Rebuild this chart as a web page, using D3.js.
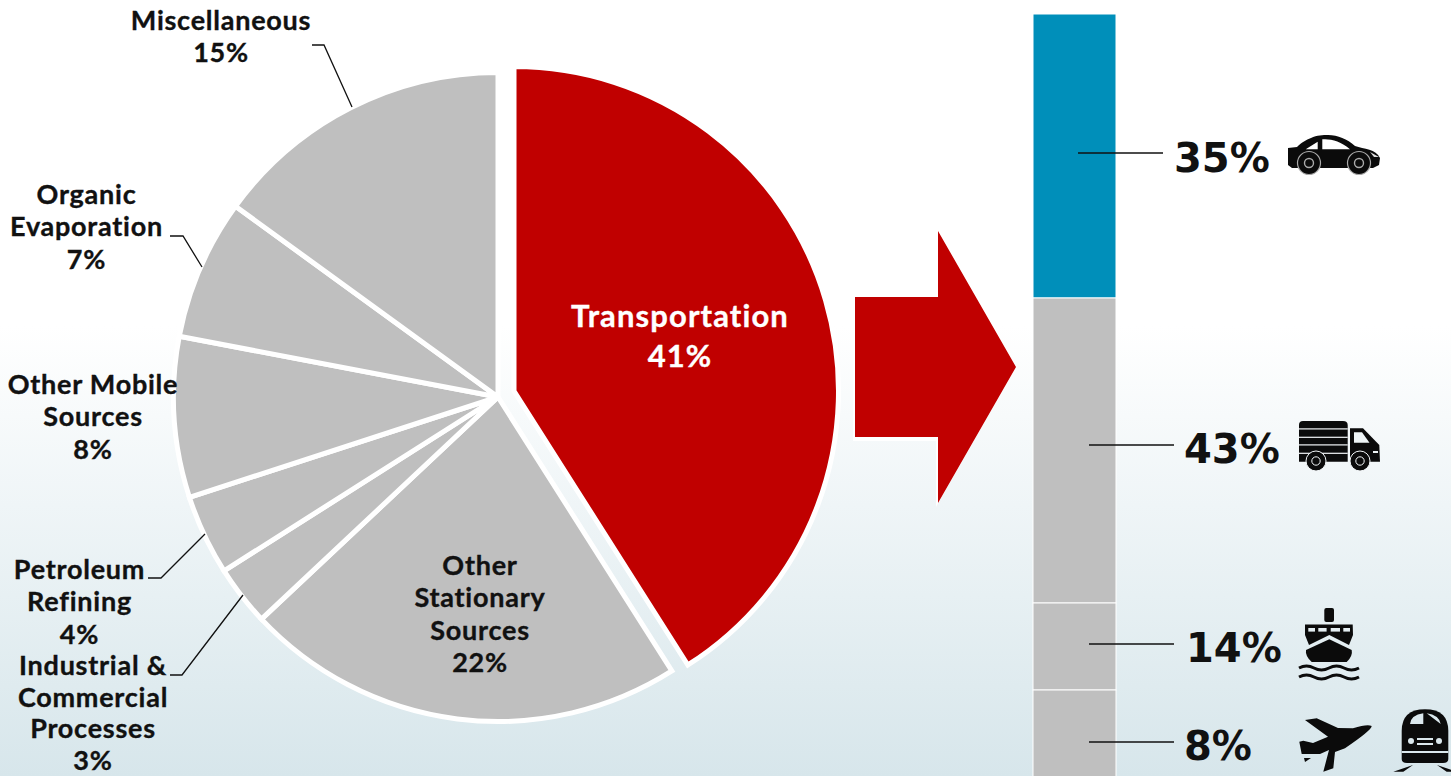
<!DOCTYPE html>
<html>
<head>
<meta charset="utf-8">
<script src="https://cdn.jsdelivr.net/npm/d3@7"></script>
<style>
  html, body { margin: 0; padding: 0; overflow: hidden; }
  text { font-family: "Lato", sans-serif; font-weight: 700; fill: #111; font-variant-ligatures: none; }
  .lbl { letter-spacing: 0.75px; stroke-width: 0.35px; }
  .pct { font-family: "DejaVu Sans", sans-serif; font-weight: 700; }
</style>
</head>
<body>
<div id="chart"></div>
<script>
// pie, clockwise from 12 o'clock
var sectors = ["Transportation", "Other Stationary Sources", "Industrial & Commercial Processes", "Petroleum Refining", "Other Mobile Sources", "Organic Evaporation", "Miscellaneous"];
var sectorShares = [41, 22, 3, 4, 8, 7, 15];
var sectorLines = [["Transportation", "41%"], ["Other", "Stationary", "Sources", "22%"], ["Industrial &", "Commercial", "Processes", "3%"], ["Petroleum", "Refining", "4%"], ["Other Mobile", "Sources", "8%"], ["Organic", "Evaporation", "7%"], ["Miscellaneous", "15%"]];

// transport breakdown, top to bottom
var modes = ["Cars", "Trucks", "Ships", "Planes and trains"];
var modeShares = [35, 43, 14, 8];

var width = 1451, height = 776;
var pieCx = 498, pieCy = 397, pieR = 324.5;

var svg = d3.select("#chart").append("svg").attr("width", width).attr("height", height);

var bg = svg.append("defs").append("linearGradient").attr("id", "bg").attr("x1", 0).attr("x2", 0).attr("y1", 0).attr("y2", 1);
bg.append("stop").attr("offset", "42%").attr("stop-color", "#ffffff");
bg.append("stop").attr("offset", "100%").attr("stop-color", "#d7e6eb");
svg.append("rect").attr("width", width).attr("height", height).attr("fill", "url(#bg)");

// pie
var pie = d3.pie().sort(null).value(function (d) { return d; });
var arc = d3.arc().innerRadius(0).outerRadius(pieR);
var arcs = pie(sectorShares);

svg.append("g")
  .attr("transform", "translate(" + pieCx + "," + pieCy + ")")
  .selectAll("path")
  .data(arcs)
  .join("path")
  .attr("d", arc)
  .attr("fill", function (d, i) { return i === 0 ? "#c00000" : "#bfbfbf"; })
  .attr("stroke", "#fff")
  .attr("stroke-width", 5)
  .attr("transform", function (d, i) { return i === 0 ? "translate(16,-6)" : null; });

// pie labels: anchor centre x, first baseline y, line gap
var labelPos = [[680, 327, 40], [480, 575, 32.4], [93, 675, 31.5], [79.5, 579, 32.4], [93, 394, 32.4], [86.5, 204, 32.4], [221, 30, 32.4]];
sectorLines.forEach(function (lines, i) {
  var t = svg.append("text")
    .attr("class", "lbl")
    .attr("text-anchor", "middle")
    .attr("font-size", i === 0 ? 31 : 27)
    .style("fill", i === 0 ? "#fff" : "#111")
    .style("stroke", i === 0 ? "#fff" : "#111");
  if (i === 0) t.style("letter-spacing", "1.1px");
  lines.forEach(function (s, j) {
    t.append("tspan").attr("x", labelPos[i][0]).attr("y", labelPos[i][1] + j * labelPos[i][2]).text(s);
  });
});

// leader lines
var leaders = [
  [[148, 578], [161, 578], [205, 534]],
  [[170, 675], [182, 675], [243, 595]],
  [[170, 236], [183, 236], [202, 267]],
  [[312, 45], [324, 45], [352, 107]]
];
var line = d3.line();
svg.append("g").selectAll("path").data(leaders).join("path")
  .attr("d", line).attr("fill", "none").attr("stroke", "#111").attr("stroke-width", 1.3);

// arrow, white edge only shows at the lower left
var arrowPath = "M855,297H938V231L1016,367L938,503V437H855Z";
svg.append("path").attr("d", arrowPath).attr("fill", "#fff").attr("transform", "translate(-2,4)");
svg.append("path").attr("d", arrowPath).attr("fill", "#c00000");

// stacked bar, the picture's segments are not drawn to scale so the scale has a knot per segment
var cum = d3.cumsum(modeShares);
var yBar = d3.scaleLinear().domain([0].concat(Array.from(cum))).range([14, 298, 603, 690, 790]);
var xBar = d3.scaleBand().domain(["Transportation"]).range([1033, 1116]);
var barRows = modeShares.map(function (v, i) { return { name: modes[i], v: v, y0: i ? cum[i - 1] : 0, y1: cum[i] }; });

svg.append("g").selectAll("rect").data(barRows).join("rect")
  .attr("x", xBar("Transportation"))
  .attr("width", xBar.bandwidth())
  .attr("y", function (d) { return yBar(d.y0); })
  .attr("height", function (d) { return yBar(d.y1) - yBar(d.y0); })
  .attr("fill", function (d, i) { return i === 0 ? "#008fba" : "#bfbfbf"; })
  .attr("stroke", "#fff")
  .attr("stroke-width", 1);

var calloutY = [153, 445, 644, 742];
var calloutX0 = [1078, 1089, 1089, 1089];
var calloutX1 = [1163, 1174, 1174, 1174];
var pctX = [1174, 1184, 1186, 1184];
var pctY = [172, 463, 662, 760];

svg.append("g").selectAll("line").data(barRows).join("line")
  .attr("x1", function (d, i) { return calloutX0[i]; })
  .attr("x2", function (d, i) { return calloutX1[i]; })
  .attr("y1", function (d, i) { return calloutY[i]; })
  .attr("y2", function (d, i) { return calloutY[i]; })
  .attr("stroke", "#111").attr("stroke-width", 1.6);

svg.append("g").selectAll("text").data(barRows).join("text")
  .attr("class", "pct")
  .attr("x", function (d, i) { return pctX[i]; })
  .attr("y", function (d, i) { return pctY[i]; })
  .attr("font-size", 40)
  .text(function (d) { return d.v + "%"; });

// icons
var icons = svg.append("g").attr("fill", "#0b0b0b");

// car
var car = icons.append("g").attr("transform", "translate(1288,134)");
car.append("path").attr("d", "M0,14 L9,13 C14,8 18,6 23,4 C29,1 35,1 40,1 C50,1 59,5 67,12 C76,15 88,15 92,24 L91,31 L85,34 L4,34 L0,31 Z");
car.append("path").attr("d", "M17.7,15.3 L29.7,7.7 V15.3 Z M34.3,15.3 V5.3 C42,4.5 53,7 62,15.3 Z").attr("fill", "#fff");
car.append("path").attr("d", "M82,18 L91,23 L86,23 Z").attr("fill", "#ddd");
[[21, 29], [71, 29]].forEach(function (w) {
  car.append("circle").attr("cx", w[0]).attr("cy", w[1]).attr("r", 11.5).attr("stroke", "#aaa").attr("stroke-width", 1.2);
  car.append("circle").attr("cx", w[0]).attr("cy", w[1]).attr("r", 4.5).attr("fill", "none").attr("stroke", "#aaa").attr("stroke-width", 1.4);
});

// truck
var truck = icons.append("g").attr("transform", "translate(1299,421)");
truck.append("path").attr("d", "M0,4 Q0,0 4,0 H44 Q48.7,0 48.7,4 V40.7 H0 Z");
[7.3, 15.7, 23.3, 31.7].forEach(function (y) {
  truck.append("rect").attr("x", 0).attr("y", y).attr("width", 48.7).attr("height", 1.2).attr("fill", "#f2f6f8");
});
truck.append("path").attr("d", "M51,7.3 H64 L80.3,24 L81,40.7 H51 Z");
truck.append("path").attr("d", "M55,11.3 H63 L70.5,21.7 H55 Z").attr("fill", "#eef4f6");
truck.append("rect").attr("x", 74).attr("y", 30).attr("width", 5).attr("height", 2).attr("fill", "#eef4f6");
[[17, 40], [61, 40]].forEach(function (w) {
  truck.append("circle").attr("cx", w[0]).attr("cy", w[1]).attr("r", 10).attr("stroke", "#f2f6f8").attr("stroke-width", 1);
  truck.append("circle").attr("cx", w[0]).attr("cy", w[1]).attr("r", 4.2).attr("fill", "none").attr("stroke", "#f2f6f8").attr("stroke-width", 1);
});

// ship
var ship = icons.append("g").attr("transform", "translate(1299,608)");
ship.append("rect").attr("x", 25.3).attr("y", 0).attr("width", 9.7).attr("height", 14).attr("rx", 2);
ship.append("path").attr("d", "M6,16.5 H53.7 L54,27 L50,37 L30.3,27 L10,37 L6,27 Z");
ship.append("path").attr("d", "M30.3,31.3 L52.7,42 Q54,48 47.7,54 H12.7 Q6,48 7,42 Z");
ship.append("g").attr("fill", "#e3edf1").selectAll("rect").data([[9.3, 6.7], [19.3, 8.3], [31.7, 9.3], [44.3, 6.7]]).join("rect")
  .attr("x", function (d) { return d[0]; }).attr("y", 20).attr("width", function (d) { return d[1]; }).attr("height", 3.6);
ship.append("g").attr("fill", "none").attr("stroke", "#0b0b0b").attr("stroke-width", 3)
  .selectAll("path").data([60, 69]).join("path")
  .attr("d", function (y) { return "M0," + y + " q7.5,-4 15,0 t15,0 t15,0 t15,0"; });

// plane
var plane = icons.append("g").attr("transform", "translate(1299,716)");
plane.append("path").attr("d", "M72.7,10 Q73,14 46,32.3 L36,36 L34.3,52.3 L24.3,55.7 L30,34 L21,38 L2.7,38 L0.3,25.7 L4.3,24.7 L14,27 L29,20.7 L6,4 L17.7,2.3 L39,12 L54,12.3 Q68,8 72.7,10 Z");
plane.append("path").attr("d", "M5,42 L12,42 L6,46 Z");

// train
var train = icons.append("g").attr("transform", "translate(1393,709)");
train.append("path").attr("d", "M8.7,22 Q8.7,0.3 32,0.3 Q55.3,0.3 55.3,22 V50 Q55.3,54 50,54 H14 Q8.7,54 8.7,50 Z");
train.append("path").attr("d", "M17,15 Q18,6 30.3,4.3 V15 Z M33.7,4.3 Q46,6 47.7,15 Z").attr("fill", "#dbe8ed");
train.append("g").attr("fill", "#dbe8ed").selectAll("circle").data([18, 46]).join("circle")
  .attr("cx", function (d) { return d; }).attr("cy", 32).attr("r", 3);
train.append("rect").attr("x", 24).attr("y", 29).attr("width", 16).attr("height", 2).attr("fill", "#dbe8ed");
train.append("rect").attr("x", 24).attr("y", 34).attr("width", 16).attr("height", 2).attr("fill", "#dbe8ed");
train.append("rect").attr("x", 8.7).attr("y", 42).attr("width", 46.6).attr("height", 2).attr("fill", "#dbe8ed");
train.append("path").attr("d", "M0.3,62.7 L20,56 L10.3,62.7 Z M63.7,62.7 L44,56 L53.7,62.7 Z");
</script>
</body>
</html>
